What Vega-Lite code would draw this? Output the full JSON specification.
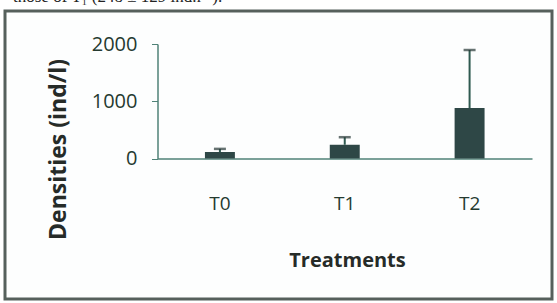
{
  "$schema": "https://vega.github.io/schema/vega-lite/v6.json",
  "autosize": {"type": "none"},
  "width": 547,
  "height": 288,
  "padding": {"left": 5, "top": 11, "right": 5, "bottom": 4},
  "background": "#ffffff",
  "config": {
    "view": {"stroke": "#56605c", "strokeWidth": 3, "fill": "#fdfefe"},
    "font": "Open Sans"
  },
  "title": {
    "text": "those of T₁ (248 ± 129 ind.l⁻¹).",
    "anchor": "start",
    "frame": "group",
    "orient": "top",
    "offset": 0,
    "dx": 8,
    "dy": 8,
    "baseline": "alphabetic",
    "font": "Liberation Serif",
    "fontSize": 17,
    "fontWeight": "normal",
    "color": "#222222"
  },
  "data": {
    "values": [
      {"treatment": "T0", "density": 112, "upper": 168},
      {"treatment": "T1", "density": 240, "upper": 372},
      {"treatment": "T2", "density": 880, "upper": 1895}
    ]
  },
  "encoding": {
    "x": {
      "field": "treatment",
      "type": "nominal",
      "sort": ["T0", "T1", "T2"],
      "scale": {"range": [152.5, 527], "paddingInner": 0, "paddingOuter": 0},
      "axis": {
        "title": "Treatments",
        "orient": "bottom",
        "offset": -140.5,
        "labelAngle": 0,
        "ticks": false,
        "tickSize": 0,
        "labelPadding": 44.5,
        "labelBaseline": "middle",
        "labelFontSize": 19,
        "labelColor": "#253a30",
        "domainColor": "#4f8277",
        "domainWidth": 1.5,
        "titleFontSize": 20,
        "titleFontWeight": "bold",
        "titleColor": "#262b28",
        "titleX": 342,
        "titleY": 101.5,
        "titleBaseline": "middle",
        "titleAlign": "center"
      }
    }
  },
  "layer": [
    {
      "mark": {"type": "bar", "width": {"band": 0.24}, "color": "#2e4746"},
      "encoding": {
        "y": {
          "field": "density",
          "type": "quantitative",
          "scale": {"domain": [0, 2000], "nice": false, "zero": true, "range": [147.5, 33]},
          "axis": {
            "title": "Densities (ind/l)",
            "orient": "left",
            "offset": -152.5,
            "values": [0, 1000, 2000],
            "format": "d",
            "grid": false,
            "tickSize": 6,
            "tickColor": "#4f8277",
            "domainColor": "#4f8277",
            "domainWidth": 1.5,
            "labelPadding": 14.5,
            "labelFontSize": 20,
            "labelColor": "#253a30",
            "labelBaseline": "middle",
            "titleFontSize": 23,
            "titleFontWeight": "bold",
            "titleColor": "#262b28",
            "titleX": -99.5,
            "titleY": 138,
            "titleAngle": -90,
            "titleBaseline": "middle",
            "titleAlign": "center"
          }
        }
      }
    },
    {
      "mark": {"type": "rule", "color": "#2f5a50", "strokeWidth": 2},
      "encoding": {
        "y": {"field": "density", "type": "quantitative"},
        "y2": {"field": "upper"}
      }
    },
    {
      "mark": {"type": "tick", "color": "#263836", "size": 12, "thickness": 2.5, "orient": "horizontal"},
      "encoding": {
        "y": {"field": "upper", "type": "quantitative"}
      }
    }
  ]
}
